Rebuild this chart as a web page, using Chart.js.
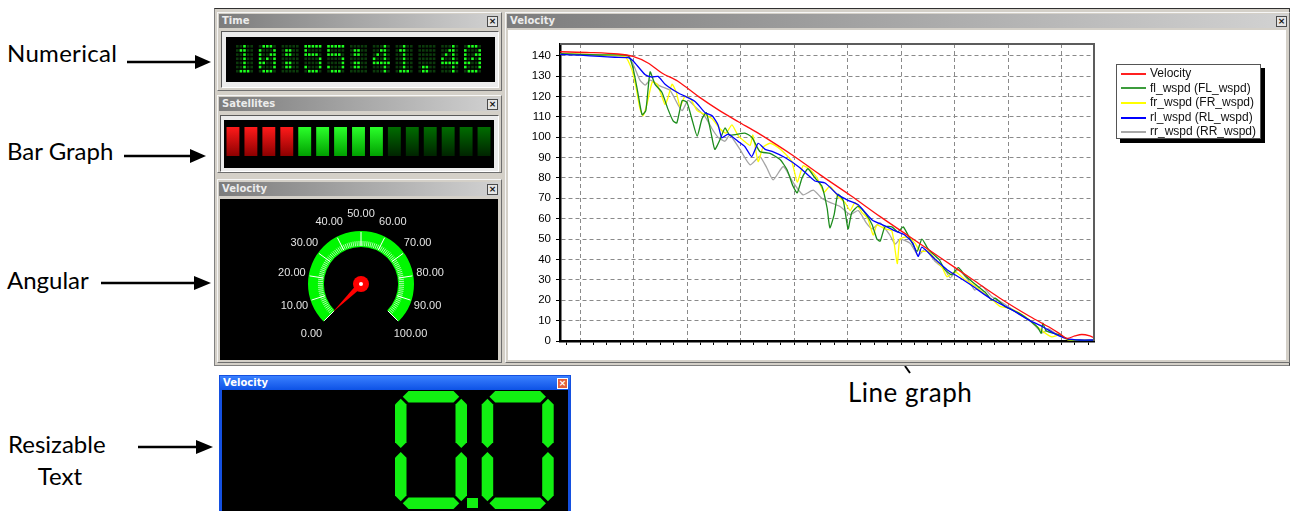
<!DOCTYPE html>
<html>
<head>
<meta charset="utf-8">
<title>Velocity dashboard</title>
<script src="https://cdn.jsdelivr.net/npm/chart.js@4.4.1/dist/chart.umd.min.js"></script>
<style>
  body { margin: 0; width: 1291px; height: 511px; background: #fff; position: relative; overflow: hidden; }
  .abs { position: absolute; }
  .frame { position: absolute; left: 214px; top: 8px; width: 1076px; height: 358px; box-sizing: border-box;
           background: #d4d0c8; border: 1px solid; border-color: #303030 #404040 #808080 #808080; }
  .panel { position: absolute; box-sizing: border-box; background: #d4d0c8;
           border: 1px solid; border-color: #f6f6f6 #6e6e6e #6e6e6e #f6f6f6; }
  .bar { position: absolute; height: 14px; box-sizing: border-box; padding-left: 3px;
         background: linear-gradient(to right, #7c7c7c, #d2d2d2);
         color: #ececec; font: bold 10px "DejaVu Sans", sans-serif; line-height: 14px; }
  .close { position: absolute; width: 11px; height: 11px; box-sizing: border-box; background: #e4e4e4;
           border: 1px solid #4a4a4a; color: #111; font: bold 9px/9px "DejaVu Sans", sans-serif; text-align: center; }
  .bevel { position: absolute; box-sizing: border-box; background: #ececec;
           border: 1px solid; border-color: #5a5a5a #ffffff #ffffff #5a5a5a; }
  .black { position: absolute; background: #000; }
  #legend { position: absolute; left: 1116px; top: 64px; width: 145px; height: 75px; box-sizing: border-box;
            background: #fff; border: 1px solid #555; box-shadow: 4px 4px 0 #000;
            font: 12px "Liberation Sans", Arial, sans-serif; color: #111; padding-top: 1px; }
  #legend .row { height: 14.6px; line-height: 14.6px; white-space: nowrap; }
  #legend .swatch { display: inline-block; width: 25px; height: 2px; margin: 0 4px 0 4px; vertical-align: middle; }
</style>
</head>
<body>

<!-- notes and arrows around the dashboard -->
<svg class="abs" style="left:0;top:0" width="1291" height="511">
  <g font-family="Lato, sans-serif" font-size="24" fill="#000">
    <text x="7" y="62" letter-spacing="0.3">Numerical</text>
    <text x="7" y="160">Bar Graph</text>
    <text x="7" y="289">Angular</text>
    <text x="8" y="453">Resizable</text>
    <text x="60" y="485" text-anchor="middle">Text</text>
    <text x="848" y="402" font-size="26" letter-spacing="0.5">Line graph</text>
  </g>
  <g stroke="#000" stroke-width="2.5">
    <line x1="127" y1="62" x2="198" y2="62"/>
    <line x1="124" y1="156" x2="193" y2="156"/>
    <line x1="101" y1="283" x2="197" y2="283"/>
    <line x1="138" y1="447" x2="199" y2="447"/>
    <line x1="905" y1="366" x2="910" y2="373" stroke-width="2"/>
  </g>
  <g fill="#000">
    <polygon points="195,55 211,62 195,69"/>
    <polygon points="190,149 206,156 190,163"/>
    <polygon points="194,276 211,283 194,290"/>
    <polygon points="196,440 213,447 196,454"/>
  </g>
</svg>

<div class="frame"></div>

<!-- Time -->
<div class="panel" style="left:217px;top:12px;width:285px;height:79px"></div>
<div class="bar" style="left:219px;top:14px;width:281px">Time</div>
<div class="close" style="left:487px;top:16px">×</div>
<div class="bevel" style="left:221px;top:31px;width:278px;height:57px"></div>
<div class="black" style="left:226px;top:37px;width:269px;height:45px"></div>
<canvas id="clockCanvas" class="abs" style="left:226px;top:37px" width="269" height="45"></canvas>

<!-- Satellites -->
<div class="panel" style="left:217px;top:95px;width:285px;height:78px"></div>
<div class="bar" style="left:219px;top:97px;width:281px">Satellites</div>
<div class="close" style="left:487px;top:99px">×</div>
<div class="bevel" style="left:220px;top:115px;width:279px;height:57px"></div>
<div class="black" style="left:224px;top:120px;width:270px;height:48px"></div>
<canvas id="satCanvas" class="abs" style="left:224px;top:120px" width="270" height="48"></canvas>

<!-- Angular gauge -->
<div class="panel" style="left:217px;top:179px;width:285px;height:184px"></div>
<div class="bar" style="left:219px;top:182px;width:281px">Velocity</div>
<div class="close" style="left:487px;top:184px">×</div>
<div class="black" style="left:220px;top:199px;width:278px;height:161px"></div>
<canvas id="gaugeCanvas" class="abs" style="left:220px;top:199px" width="278" height="161"></canvas>

<!-- Line graph -->
<div class="panel" style="left:505px;top:12px;width:785px;height:351px"></div>
<div class="bar" style="left:507px;top:14px;width:781px">Velocity</div>
<div class="close" style="left:1276px;top:16px">×</div>
<div class="abs" style="left:508px;top:30px;width:778px;height:330px;background:#fff"></div>
<canvas id="lineCanvas" class="abs" style="left:508px;top:30px" width="778" height="330"></canvas>
<div id="legend"></div>

<!-- Resizable text window -->
<div class="abs" style="left:219px;top:375px;width:352px;height:136px;background:#1450e0"></div>
<div class="abs" style="left:220px;top:376px;width:350px;height:14px;background:linear-gradient(#3a80ff,#0d52e6);
     color:#fff;font:bold 10px/14px 'DejaVu Sans',sans-serif;padding-left:3px;box-sizing:border-box">Velocity</div>
<div class="abs" style="left:557px;top:378px;width:11px;height:11px;box-sizing:border-box;background:#e2603c;
     border:1px solid #fff;color:#fff;font:bold 9px/9px 'DejaVu Sans';text-align:center">×</div>
<div class="black" style="left:222px;top:390px;width:346px;height:121px"></div>
<canvas id="readoutCanvas" class="abs" style="left:222px;top:390px" width="346" height="121"></canvas>

<script>
// ---------------- data ----------------
const clockText = '10:55:41.40';

const satelliteLevels = [1, 1, 1, 1, 1, 1, 1, 1, 1, 1, 1, 1, 1, 1, 1];
const satelliteStatus = ['fault', 'fault', 'fault', 'fault', 'lock', 'lock', 'lock', 'lock', 'lock',
                         'idle', 'idle', 'idle', 'idle', 'idle', 'idle'];

const gaugeMin = 0;
const gaugeMax = 100;
const gaugeTicks = [0, 10, 20, 30, 40, 50, 60, 70, 80, 90, 100];
const gaugeValue = 0;

const readoutText = '0.0';

const yTicks = [0, 10, 20, 30, 40, 50, 60, 70, 80, 90, 100, 110, 120, 130, 140];
const seriesLabels = ['Velocity', 'fl_wspd (FL_wspd)', 'fr_wspd (FR_wspd)', 'rl_wspd (RL_wspd)', 'rr_wspd (RR_wspd)'];
const seriesColors = ['#ff1010', '#1c8c1c', '#ffff00', '#0000ff', '#a4a4a4'];
const legendColors = ['#ff2020', '#3c9c3c', '#ffff00', '#0000ff', '#a8a8a8'];

// [time (s), speed]
const velocity = [[-3.7,141.9],[1.9,141.5],[7.1,140.8],[9.9,139.6],[12.7,136.4],[15.3,131.5],[18.3,127.4],
  [22.1,120.0],[25.8,113.5],[29.5,107.7],[33.3,102.0],[39.6,91.4],[44.9,81.5],[50.5,71.5],[56.1,61.0],
  [61.7,51.0],[67.3,41.0],[72.9,31.0],[78.5,21.0],[84.1,12.0],[87.9,6.5],[89.7,3.5],[91.0,1.3],[92.5,2.5],
  [93.8,3.2],[95.3,2.5],[96.1,1.5]];

const flWspd = [[-3.7,141.0],[3.7,140.3],[9.0,140.0],[9.9,134.0],[10.8,122.0],[11.6,111.0],[12.3,113.0],
  [13.1,132.0],[14.0,126.0],[15.3,122.0],[16.4,114.0],[17.4,108.0],[18.1,107.0],[19.1,118.0],[20.0,117.0],
  [20.9,109.0],[21.9,100.5],[22.8,109.0],[23.6,112.0],[24.5,102.0],[25.2,94.0],[26.2,99.0],[27.1,104.5],
  [28.0,101.0],[30.8,102.0],[32.1,100.0],[33.6,93.0],[35.5,92.0],[37.4,89.0],[38.7,84.0],[39.8,76.0],
  [40.6,72.7],[41.5,80.0],[42.6,84.5],[43.9,80.0],[45.2,76.0],[46.2,65.0],[46.7,55.5],[47.5,62.0],
  [48.2,72.0],[49.2,69.0],[50.1,55.0],[50.8,63.0],[52.0,66.0],[53.5,62.0],[54.6,57.0],[55.5,50.0],
  [56.1,49.0],[57.0,56.0],[58.3,56.0],[59.4,53.5],[60.4,56.0],[61.7,50.0],[63.0,44.0],[63.9,50.0],
  [65.1,45.0],[67.1,40.0],[68.2,35.0],[69.5,32.5],[70.7,36.0],[72.0,32.0],[73.8,28.0],[75.7,24.0],
  [77.0,20.0],[77.6,21.0],[79.4,17.0],[82.2,13.5],[84.1,10.0],[85.6,6.5],[86.2,3.8],[86.5,8.8],
  [87.1,5.0],[88.2,4.0],[89.7,3.0],[91.2,0.8],[93.5,0.3],[96.1,0.3]];

const frWspd = [[-3.7,141.0],[3.7,140.3],[8.4,139.5],[9.7,133.0],[10.5,124.0],[11.2,114.0],[11.8,110.5],
  [12.5,116.0],[13.5,127.0],[14.4,126.0],[15.3,120.0],[15.9,116.0],[16.4,119.0],[17.2,126.0],[18.0,122.0],
  [18.7,115.0],[19.6,120.0],[20.6,119.0],[21.9,113.0],[23.4,111.0],[24.7,109.0],[26.2,104.0],[27.3,102.0],
  [28.4,106.0],[29.5,101.0],[30.7,98.0],[31.8,96.0],[32.3,101.0],[33.3,88.0],[34.2,95.0],[35.5,97.0],
  [37.0,95.0],[38.3,92.0],[39.6,88.0],[40.6,78.0],[41.7,86.0],[43.0,84.0],[44.3,80.0],[45.6,73.0],
  [46.7,76.0],[48.2,71.0],[49.5,68.0],[50.5,64.0],[51.4,68.0],[52.7,63.0],[53.8,60.0],[54.8,52.0],
  [55.5,57.0],[57.0,55.0],[58.3,54.0],[59.3,38.0],[59.8,50.0],[61.3,51.0],[62.6,48.0],[63.6,44.0],
  [65.2,44.0],[66.4,40.0],[67.7,36.0],[68.6,31.5],[70.1,34.0],[72.0,30.0],[73.8,27.0],[75.7,23.0],
  [77.6,19.0],[78.5,17.0],[80.4,16.0],[83.2,12.0],[85.0,8.0],[86.9,4.0],[88.2,2.0],[89.7,3.0],
  [91.2,0.5],[96.1,0.3]];

const rlWspd = [[-3.7,140.6],[0.0,140.2],[3.7,139.6],[6.5,139.2],[9.0,139.0],[9.9,137.5],[12.2,130.6],
  [13.5,129.5],[14.6,129.8],[15.9,126.0],[18.3,121.8],[21.5,117.5],[23.4,112.0],[24.7,110.5],[25.8,106.0],
  [26.5,99.7],[27.7,101.5],[29.5,98.0],[30.8,95.4],[32.1,90.5],[33.3,97.0],[34.6,94.0],[35.9,93.0],
  [38.3,90.0],[41.1,85.0],[43.9,78.5],[45.8,77.5],[48.2,71.7],[50.1,69.0],[52.0,66.8],[54.6,59.4],
  [57.0,56.5],[58.9,54.0],[60.7,52.0],[62.2,48.0],[63.2,41.5],[63.9,46.0],[66.4,40.0],[68.6,35.0],
  [71.0,31.0],[73.5,26.7],[76.6,21.0],[80.9,15.0],[84.1,10.0],[86.5,7.0],[88.8,3.5],[91.0,1.2],
  [93.5,0.5],[96.1,0.5]];

const rrWspd = [[-3.7,140.8],[3.7,140.0],[9.0,139.5],[9.9,136.0],[11.2,128.0],[12.2,125.5],[13.1,128.0],
  [15.0,125.0],[16.8,123.0],[18.3,116.0],[19.1,113.0],[20.2,118.0],[21.5,115.0],[23.4,110.0],[24.7,104.0],
  [25.8,100.0],[27.1,98.0],[28.0,101.0],[29.9,94.0],[31.8,86.4],[33.6,90.5],[34.9,85.0],[36.1,79.0],
  [38.0,85.6],[39.8,78.0],[41.7,71.7],[43.6,74.0],[45.2,70.0],[46.7,68.0],[48.6,66.0],[50.5,62.0],
  [52.0,64.0],[53.5,58.0],[54.6,55.0],[56.1,58.0],[57.9,52.0],[58.9,47.5],[59.8,50.0],[61.7,48.0],
  [63.2,42.0],[64.5,45.0],[66.4,39.0],[68.2,35.0],[69.2,31.0],[70.7,35.0],[72.5,30.0],[73.8,25.0],
  [75.1,27.0],[76.9,22.0],[79.4,18.0],[82.2,13.0],[84.1,10.0],[85.6,6.0],[86.5,4.0],[87.5,6.0],
  [89.3,3.0],[91.2,0.8],[96.1,0.3]];

// ---------------- dot matrix clock ----------------
const font5x7 = {
  '0': ['01110','10001','10011','10101','11001','10001','01110'],
  '1': ['00100','01100','00100','00100','00100','00100','01110'],
  '2': ['01110','10001','00001','00010','00100','01000','11111'],
  '3': ['11111','00010','00100','00010','00001','10001','01110'],
  '4': ['00010','00110','01010','10010','11111','00010','00010'],
  '5': ['11111','10000','11110','00001','00001','10001','01110'],
  '6': ['00110','01000','10000','11110','10001','10001','01110'],
  '7': ['11111','00001','00010','00100','01000','01000','01000'],
  '8': ['01110','10001','10001','01110','10001','10001','01110'],
  '9': ['01110','10001','10001','01111','00001','00010','01100'],
  ':': ['00000','01100','01100','00000','01100','01100','00000'],
  '.': ['00000','00000','00000','00000','00000','01100','01100']
};

function drawDotMatrix(canvas, text) {
  const ctx = canvas.getContext('2d');
  const charPitch = 22.8, colStep = 3.6, rowStep = 4.15, dot = 2.6, left = 10, top = 8;
  [...text].forEach((ch, i) => {
    const rows = font5x7[ch];
    rows.forEach((row, r) => {
      [...row].forEach((bit, c) => {
        ctx.fillStyle = bit === '1' ? '#1cff1c' : '#0b3a0b';
        ctx.fillRect(left + i * charPitch + c * colStep, top + r * rowStep, dot, dot);
      });
    });
  });
}

// ---------------- seven segment readout ----------------
const segmentsOf = {
  '0': 'abcdef', '1': 'bc', '2': 'abged', '3': 'abgcd', '4': 'fgbc',
  '5': 'afgcd', '6': 'afgedc', '7': 'abc', '8': 'abcdefg', '9': 'abcdfg'
};

function drawSevenSeg(canvas, text) {
  const ctx = canvas.getContext('2d');
  const w = 72, h = 118, t = 11.5, gap = 2, pitch = 86.7;
  let x = 173;
  const y = 1;
  ctx.fillStyle = '#12f012';

  const hSeg = (x0, x1, yc) => {
    ctx.beginPath();
    ctx.moveTo(x0, yc); ctx.lineTo(x0 + t / 2, yc - t / 2); ctx.lineTo(x1 - t / 2, yc - t / 2);
    ctx.lineTo(x1, yc); ctx.lineTo(x1 - t / 2, yc + t / 2); ctx.lineTo(x0 + t / 2, yc + t / 2);
    ctx.closePath(); ctx.fill();
  };
  const vSeg = (xc, y0, y1) => {
    ctx.beginPath();
    ctx.moveTo(xc, y0); ctx.lineTo(xc + t / 2, y0 + t / 2); ctx.lineTo(xc + t / 2, y1 - t / 2);
    ctx.lineTo(xc, y1); ctx.lineTo(xc - t / 2, y1 - t / 2); ctx.lineTo(xc - t / 2, y0 + t / 2);
    ctx.closePath(); ctx.fill();
  };

  for (const ch of text) {
    if (ch === '.') {
      ctx.fillRect(x - pitch + w, y + h - 11, 11, 10);
      continue;
    }
    const L = x + t / 2, R = x + w - t / 2, T = y + t / 2, M = y + h / 2, B = y + h - t / 2;
    const segs = segmentsOf[ch] || '';
    if (segs.includes('a')) hSeg(L + gap, R - gap, T);
    if (segs.includes('b')) vSeg(R, T + gap, M - gap);
    if (segs.includes('c')) vSeg(R, M + gap, B - gap);
    if (segs.includes('d')) hSeg(L + gap, R - gap, B);
    if (segs.includes('e')) vSeg(L, M + gap, B - gap);
    if (segs.includes('f')) vSeg(L, T + gap, M - gap);
    if (segs.includes('g')) hSeg(L + gap, R - gap, M);
    x += pitch;
  }
}

// ---------------- satellites bar graph ----------------
function satelliteFill(context) {
  const chart = context.chart;
  const area = chart.chartArea;
  const status = satelliteStatus[context.dataIndex];
  const stops = {
    fault: ['#ff1a1a', '#8c0000'],
    lock:  ['#2aff2a', '#00a000'],
    idle:  ['#006c00', '#002400']
  }[status];
  if (!area) return stops[0];
  const g = chart.ctx.createLinearGradient(0, area.top, 0, area.bottom);
  g.addColorStop(0, stops[0]);
  g.addColorStop(1, stops[1]);
  return g;
}

new Chart(document.getElementById('satCanvas'), {
  type: 'bar',
  data: {
    labels: satelliteStatus.map((s, i) => String(i + 1)),
    datasets: [{
      data: satelliteLevels,
      backgroundColor: satelliteFill,
      borderWidth: 0,
      barPercentage: 0.72,
      categoryPercentage: 1
    }]
  },
  options: {
    responsive: false,
    animation: false,
    layout: { padding: { left: 0, right: 1, top: 7, bottom: 12 } },
    plugins: { legend: { display: false }, tooltip: { enabled: false } },
    scales: {
      x: { display: false },
      y: { display: false, min: 0, max: 1 }
    }
  }
});

// ---------------- angular gauge ----------------
const gaugeDecor = {
  id: 'gaugeDecor',
  afterDatasetsDraw(chart) {
    const arc = chart.getDatasetMeta(0).data[0];
    const { x, y, innerRadius, outerRadius, startAngle, endAngle } = arc;
    const ctx = chart.ctx;
    const angleOf = v => startAngle + (v - gaugeMin) / (gaugeMax - gaugeMin) * (endAngle - startAngle);
    const ray = (a, r0, r1) => {
      ctx.beginPath();
      ctx.moveTo(x + Math.cos(a) * r0, y + Math.sin(a) * r0);
      ctx.lineTo(x + Math.cos(a) * r1, y + Math.sin(a) * r1);
      ctx.stroke();
    };
    ctx.save();
    // minor graduations
    ctx.strokeStyle = 'rgba(255,255,255,0.85)';
    ctx.lineWidth = 0.8;
    for (let v = gaugeMin; v <= gaugeMax; v += 1) ray(angleOf(v), innerRadius + 1, innerRadius + 6);
    // major graduations
    ctx.strokeStyle = '#ffffff';
    ctx.lineWidth = 1;
    gaugeTicks.forEach(v => ray(angleOf(v), innerRadius + 1, outerRadius - 1));
    // labels
    ctx.fillStyle = '#e4e4e4';
    ctx.font = '11px "Liberation Sans", Arial, sans-serif';
    ctx.textAlign = 'center';
    ctx.textBaseline = 'middle';
    gaugeTicks.forEach(v => {
      const a = angleOf(v);
      ctx.fillText(v.toFixed(2), x + Math.cos(a) * 70, y + Math.sin(a) * 70);
    });
    // needle
    const a = angleOf(gaugeValue);
    const tipR = innerRadius + 3;
    const nx = Math.cos(a + Math.PI / 2), ny = Math.sin(a + Math.PI / 2);
    ctx.fillStyle = '#ff0000';
    ctx.beginPath();
    ctx.moveTo(x + nx * 3, y + ny * 3);
    ctx.lineTo(x + Math.cos(a) * tipR, y + Math.sin(a) * tipR);
    ctx.lineTo(x - nx * 3, y - ny * 3);
    ctx.closePath();
    ctx.fill();
    ctx.beginPath();
    ctx.arc(x, y, 8, 0, Math.PI * 2);
    ctx.fill();
    ctx.fillStyle = '#ffffff';
    ctx.beginPath();
    ctx.arc(x, y, 2, 0, Math.PI * 2);
    ctx.fill();
    ctx.restore();
  }
};

new Chart(document.getElementById('gaugeCanvas'), {
  type: 'doughnut',
  data: {
    labels: ['range'],
    datasets: [{ data: [gaugeMax - gaugeMin], backgroundColor: '#00f800', borderWidth: 0 }]
  },
  options: {
    responsive: false,
    animation: false,
    rotation: -135,
    circumference: 270,
    radius: 53,
    cutout: '70%',
    layout: { padding: { left: 4, right: 0, top: 0, bottom: 6.5 } },
    plugins: { legend: { display: false }, tooltip: { enabled: false } }
  },
  plugins: [gaugeDecor]
});

// ---------------- line graph ----------------
const plotFrame = {
  id: 'plotFrame',
  afterDraw(chart) {
    const { ctx, chartArea: { left, top, right, bottom } } = chart;
    ctx.save();
    ctx.strokeStyle = '#5c5c5c';
    ctx.lineWidth = 2;
    ctx.beginPath();
    ctx.moveTo(left, top);
    ctx.lineTo(right, top);
    ctx.lineTo(right, bottom);
    ctx.stroke();
    ctx.restore();
  }
};

const seriesData = [velocity, flWspd, frWspd, rlWspd, rrWspd];
const drawOrder = [0, 2, 3, 1, 4];

new Chart(document.getElementById('lineCanvas'), {
  type: 'line',
  data: {
    datasets: seriesData.map((points, i) => ({
      label: seriesLabels[i],
      data: points,
      borderColor: seriesColors[i],
      borderWidth: 1.3,
      pointRadius: 0,
      tension: i === 0 ? 0.3 : 0.18,
      fill: false,
      order: drawOrder[i]
    }))
  },
  options: {
    responsive: false,
    animation: false,
    layout: { padding: { left: 0, right: 192, top: 14, bottom: 0 } },
    plugins: { legend: { display: false }, tooltip: { enabled: false } },
    scales: {
      x: {
        type: 'linear',
        min: -3.74,
        max: 96.07,
        afterBuildTicks(scale) {
          const ticks = [];
          for (let v = -2.5; v <= scale.max; v += 2.5) ticks.push({ value: v });
          scale.ticks = ticks;
        },
        afterFit(scale) { scale.height = 19; },
        ticks: { display: false },
        grid: {
          color: ctx => (ctx.tick && Math.abs(ctx.tick.value % 10) < 1e-6) ? '#8a8a8a' : 'rgba(0,0,0,0)',
          tickColor: '#000',
          tickLength: 4,
          lineWidth: 1
        },
        border: { color: '#000', width: 2.5, dash: [4, 3] }
      },
      y: {
        min: 0,
        max: 145.7,
        afterBuildTicks(scale) { scale.ticks = yTicks.map(v => ({ value: v })); },
        afterFit(scale) { scale.width = 52; },
        ticks: { color: '#000', padding: 5, font: { family: '"Liberation Sans", Arial, sans-serif', size: 11.5 } },
        grid: { color: '#8a8a8a', tickColor: '#000', tickLength: 4, lineWidth: 1 },
        border: { color: '#000', width: 2.5, dash: [4, 3] }
      }
    }
  },
  plugins: [plotFrame]
});

// legend box built from the series definitions
const legendBox = document.getElementById('legend');
seriesLabels.forEach((label, i) => {
  const row = document.createElement('div');
  row.className = 'row';
  const sw = document.createElement('span');
  sw.className = 'swatch';
  sw.style.background = legendColors[i];
  row.appendChild(sw);
  row.appendChild(document.createTextNode(label));
  legendBox.appendChild(row);
});

drawDotMatrix(document.getElementById('clockCanvas'), clockText);
drawSevenSeg(document.getElementById('readoutCanvas'), readoutText);
</script>
</body>
</html>
